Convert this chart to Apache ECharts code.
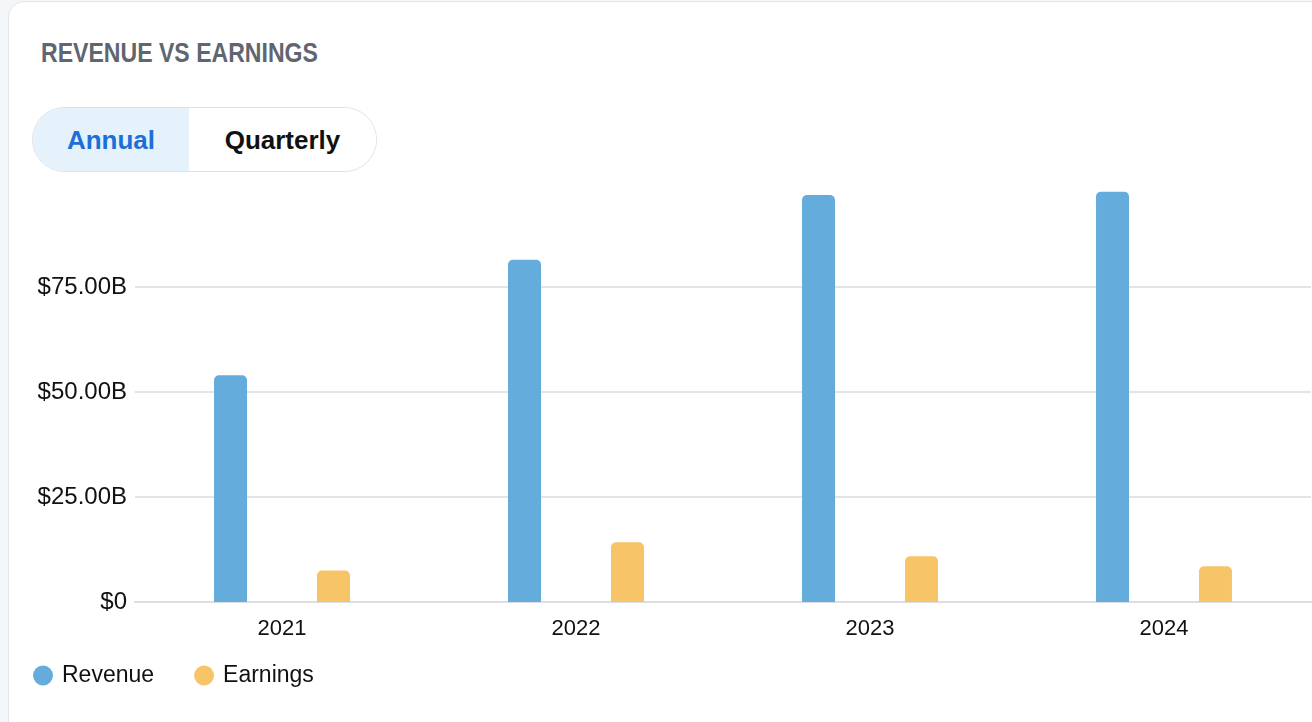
<!DOCTYPE html>
<html>
<head>
<meta charset="utf-8">
<script src="https://cdn.jsdelivr.net/npm/echarts@6/dist/echarts.min.js"></script>
<style>
  html, body { margin: 0; padding: 0; width: 1312px; height: 722px; overflow: hidden; background: #f4f7fa; }
  #card { position: absolute; left: 8px; top: 1px; width: 1400px; height: 800px; background: #fff;
          border: 1.5px solid #e2e6eb; border-radius: 16px; box-sizing: border-box; }
  #title { position: absolute; left: 41px; top: 37px; font-family: "Liberation Sans", Arial, sans-serif;
           font-weight: bold; font-size: 28px; color: #5f6670; white-space: nowrap;
           transform: scaleX(0.824); transform-origin: 0 0; }
  #toggle { position: absolute; left: 32px; top: 107px; width: 345px; height: 65px; box-sizing: border-box;
            border: 1.5px solid #dde0e5; border-radius: 33px; overflow: hidden; display: flex;
            font-family: "Liberation Sans", Arial, sans-serif; font-weight: bold; font-size: 26px; }
  #toggle .seg { display: flex; align-items: center; justify-content: center; height: 100%; padding-top: 2px; box-sizing: border-box; }
  #toggle .on { width: 156px; background: #e5f2fc; color: #1d6fd8; }
  #toggle .off { flex: 1; background: #fff; color: #111; }
  #chart { position: absolute; left: 0; top: 0; width: 1312px; height: 722px; }
</style>
</head>
<body>
<div id="card"></div>
<div id="title">REVENUE VS EARNINGS</div>
<div id="toggle"><div class="seg on">Annual</div><div class="seg off">Quarterly</div></div>
<div id="chart"></div>
<script>
const categories = ['2021', '2022', '2023', '2024'];
const revenue = [54.0, 81.5, 96.9, 97.7];   // $B
const earnings = [7.5, 14.2, 10.9, 8.5];    // $B
const seriesNames = ['Revenue', 'Earnings'];

const chart = echarts.init(document.getElementById('chart'), null, { renderer: 'canvas' });
const font = '"Liberation Sans", Arial, sans-serif';
chart.setOption({
  backgroundColor: 'transparent',
  animation: false,
  color: ['#64acdc', '#f8c468'],
  grid: { left: 135, right: 1, top: 182, bottom: 120, containLabel: false },
  legend: {
    data: seriesNames,
    left: 28, top: 659,
    icon: 'circle', itemWidth: 28, itemHeight: 20, itemGap: 40,
    textStyle: { fontFamily: font, fontSize: 23, color: '#111' }
  },
  xAxis: {
    type: 'category', data: categories,
    axisLine: { lineStyle: { color: '#dddee4', width: 2 } },
    axisTick: { show: false },
    axisLabel: { fontFamily: font, fontSize: 22, color: '#111', margin: 16 }
  },
  yAxis: {
    type: 'value', min: 0, max: 100, interval: 25,
    axisLine: { show: false }, axisTick: { show: false },
    splitLine: { showMaxLine: false, lineStyle: { color: '#e2e4ea', width: 2 } },
    axisLabel: {
      fontFamily: font, fontSize: 24, color: '#111', margin: 8,
      formatter: v => v === 0 ? '$0' : (v >= 100 ? '' : '$' + v.toFixed(2) + 'B')
    }
  },
  series: [
    { name: seriesNames[0], type: 'bar', data: revenue, barWidth: 33, barGap: '212%',
      itemStyle: { borderRadius: [5, 5, 0, 0] } },
    { name: seriesNames[1], type: 'bar', data: earnings, barWidth: 33,
      itemStyle: { borderRadius: [5, 5, 0, 0] } }
  ]
});
</script>
</body>
</html>
